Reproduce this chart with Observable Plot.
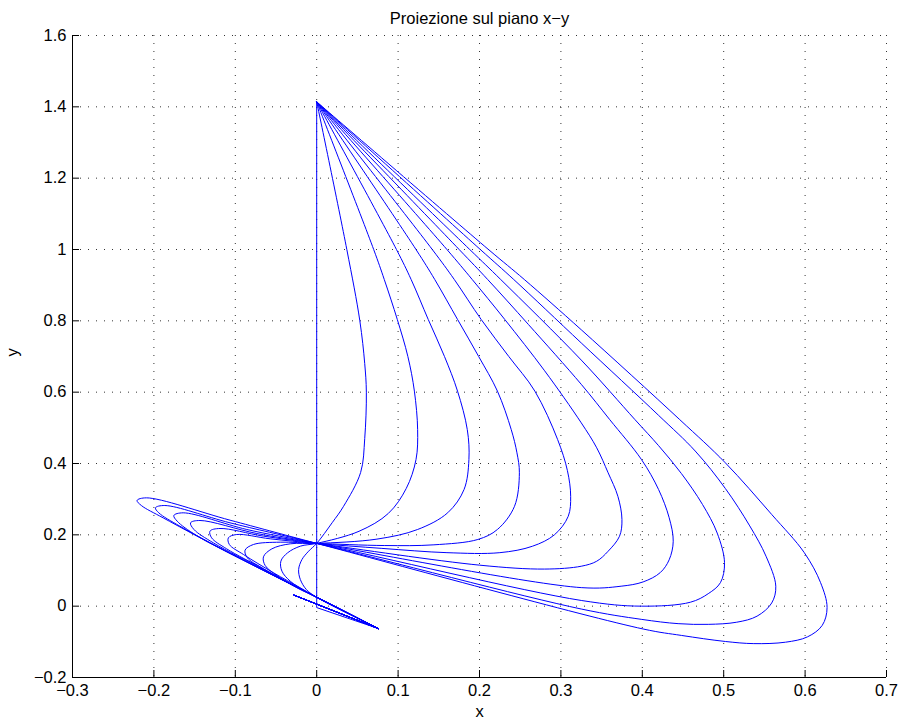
<!DOCTYPE html>
<html>
<head>
<meta charset="utf-8">
<script src="https://cdn.jsdelivr.net/npm/d3@7"></script>
<script src="https://cdn.jsdelivr.net/npm/@observablehq/plot@0.6"></script>
<style>
  html, body { margin: 0; padding: 0; background: #fff; }
  #chart { width: 901px; height: 727px; }
</style>
</head>
<body>
<div id="chart"></div>
<script>
// Tick values of the two axes
const xTicks = [-0.3, -0.2, -0.1, 0, 0.1, 0.2, 0.3, 0.4, 0.5, 0.6, 0.7];
const yTicks = [-0.2, 0, 0.2, 0.4, 0.6, 0.8, 1, 1.2, 1.4, 1.6];

// Shared points of all trajectories
const apex = [0, 1.414];      // common starting point
const hub = [0, 0.176];       // crossing point of every trajectory
const conv = [0, 0.025];      // where the left loops close up
const tailTip = [0.076, -0.063];
const tailEnd = [-0.028, 0.031];
const vBottom = [0, -0.004];  // end of the straight x = 0 trajectory

// Right lobes (apex -> lobe -> hub), innermost first
const lobe1 = [[0.037,1.0],[0.053,0.80],[0.059,0.68],[0.061,0.60],[0.059,0.47],[0.054,0.375],[0.033,0.28],[0.019,0.234]];
const lobe2 = [[0.070,1.0],[0.083,0.916],[0.099,0.804],[0.112,0.70],[0.120,0.603],[0.124,0.495],[0.122,0.411],[0.110,0.33],[0.088,0.26],[0.052,0.21]];
const lobe3 = [[0.098,1.0],[0.116,0.916],[0.137,0.804],[0.157,0.70],[0.173,0.603],[0.185,0.495],[0.187,0.411],[0.181,0.327],[0.161,0.262],[0.124,0.215],[0.074,0.188]];
const lobe4 = [[0.122,1.0],[0.145,0.916],[0.173,0.804],[0.199,0.70],[0.222,0.603],[0.239,0.495],[0.246,0.43],[0.249,0.374],[0.243,0.28],[0.222,0.215],[0.198,0.187],[0.144,0.172],[0.083,0.17]];
const lobe5 = [[0.142,1.0],[0.169,0.916],[0.202,0.804],[0.236,0.70],[0.268,0.603],[0.296,0.467],[0.308,0.38],[0.312,0.308],[0.309,0.252],[0.292,0.20],[0.265,0.168],[0.225,0.15],[0.16,0.15],[0.08,0.162]];
const lobe6 = [[0.160,1.0],[0.191,0.916],[0.231,0.804],[0.28,0.66],[0.325,0.514],[0.344,0.444],[0.358,0.374],[0.370,0.308],[0.375,0.243],[0.372,0.196],[0.358,0.154],[0.344,0.126],[0.325,0.112],[0.28,0.104],[0.2,0.115]];
const lobe7 = [[0.175,1.0],[0.210,0.916],[0.26,0.79],[0.325,0.622],[0.36,0.523],[0.399,0.411],[0.42,0.327],[0.433,0.248],[0.438,0.182],[0.433,0.13],[0.422,0.094],[0.401,0.068],[0.374,0.056],[0.325,0.052]];
const lobe8 = [[0.188,1.0],[0.226,0.916],[0.325,0.69],[0.391,0.523],[0.42,0.45],[0.448,0.372],[0.474,0.285],[0.492,0.205],[0.501,0.122],[0.496,0.066],[0.481,0.035],[0.459,0.011],[0.399,0.0],[0.325,0.016]];
const lobe9 = [[0.201,1.0],[0.242,0.916],[0.325,0.738],[0.42,0.535],[0.465,0.435],[0.502,0.33],[0.532,0.225],[0.552,0.14],[0.564,0.056],[0.559,0.009],[0.541,-0.028],[0.516,-0.045],[0.481,-0.051],[0.444,-0.049],[0.399,-0.037],[0.325,-0.008]];
const lobe10 = [[0.211,1.0],[0.255,0.916],[0.325,0.775],[0.446,0.523],[0.502,0.402],[0.559,0.257],[0.599,0.150],[0.619,0.066],[0.627,-0.004],[0.621,-0.054],[0.603,-0.086],[0.576,-0.101],[0.537,-0.105],[0.502,-0.099],[0.448,-0.082],[0.401,-0.064]];

// Left loops (hub -> loop -> conv), smallest first
const loop1 = [[-0.0099,0.1542],[-0.0181,0.1308],[-0.0222,0.1028],[-0.0201,0.0748],[-0.0127,0.0467]];
const loop2 = [[-0.0201,0.1682],[-0.0358,0.1495],[-0.0440,0.1262],[-0.0427,0.0981],[-0.0325,0.0701],[-0.0140,0.0421]];
const loop3 = [[-0.0325,0.1748],[-0.0551,0.1607],[-0.0654,0.1383],[-0.0633,0.1140],[-0.0489,0.0860],[-0.0242,0.0514]];
const loop4 = [[-0.0448,0.1794],[-0.0777,0.1729],[-0.0880,0.1570],[-0.0851,0.1355],[-0.0674,0.1075],[-0.0366,0.0673]];
const loop5 = [[-0.0571,0.1888],[-0.0982,0.2009],[-0.1085,0.1916],[-0.1073,0.1729],[-0.0900,0.1449],[-0.0530,0.0935],[-0.0201,0.0514]];
const loop6 = [[-0.0654,0.1963],[-0.1188,0.2178],[-0.1311,0.2103],[-0.1291,0.1916],[-0.1106,0.1607],[-0.0654,0.1047],[-0.0242,0.0542]];
const loop7 = [[-0.0736,0.2037],[-0.1434,0.2402],[-0.1550,0.2336],[-0.1508,0.2150],[-0.1270,0.1776],[-0.0654,0.1028]];
const loop8 = [[-0.0859,0.2150],[-0.1640,0.2617],[-0.1755,0.2542],[-0.1714,0.2383],[-0.1476,0.1981],[-0.0736,0.1103]];
const loop9 = [[-0.1065,0.2337],[-0.1866,0.2822],[-0.1981,0.2757],[-0.1940,0.2617],[-0.1681,0.2243],[-0.0859,0.1243]];
const loop10 = [[-0.1065,0.2411],[-0.2092,0.3037],[-0.2207,0.2963],[-0.2154,0.2822],[-0.1887,0.2477],[-0.1065,0.1477]];

const lobes = [lobe1, lobe2, lobe3, lobe4, lobe5, lobe6, lobe7, lobe8, lobe9, lobe10];
const loops = [loop1, loop2, loop3, loop4, loop5, loop6, loop7, loop8, loop9, loop10];

const toRows = (pts, id) => pts.map(([x, y]) => ({x, y, id}));

// Each trajectory: apex -> right lobe -> hub -> left loop -> conv -> tail tip
const curved = lobes.flatMap((lobe, i) =>
  toRows([apex, ...lobe, hub, ...loops[i], conv, tailTip], i));
// Straight segments: the x = 0 trajectory and the final return strokes
const straight = [
  ...toRows([apex, hub, vBottom, tailTip], "v"),
  ...lobes.flatMap((_, i) => toRows([tailTip, tailEnd], "r" + i))
];

const fmt = d3.format("");
const blue = "#0000ff";
const gridStyle = {stroke: "#000", strokeOpacity: 0.8, strokeWidth: 1, strokeDasharray: "1,7"};

const chart = Plot.plot({
  width: 901,
  height: 727,
  marginLeft: 72,
  marginRight: 15,
  marginTop: 35,
  marginBottom: 50,
  x: {domain: [-0.3, 0.7]},
  y: {domain: [-0.2, 1.6]},
  style: {fontFamily: "'Liberation Sans', Arial, Helvetica, sans-serif", fontSize: "16.5px", background: "#fff", color: "#000"},
  marks: [
    Plot.gridX(xTicks, gridStyle),
    Plot.gridY(yTicks, gridStyle),
    Plot.ruleX([-0.3], {stroke: "#000"}),
    Plot.ruleY([-0.2], {stroke: "#000"}),
    // inward tick marks
    Plot.axisX(xTicks, {anchor: "bottom", tickSize: 7, dy: -7, tickFormat: () => "", label: null}),
    Plot.axisY(yTicks, {anchor: "left", tickSize: 7, dx: 7, tickFormat: () => "", label: null}),
    // tick labels
    Plot.axisX(xTicks, {anchor: "bottom", tickSize: 0, tickPadding: 7, tickFormat: fmt, label: null, fill: "#000", fontSize: 16.5}),
    Plot.axisY(yTicks, {anchor: "left", tickSize: 0, tickPadding: 6, tickFormat: fmt, label: null, fill: "#000", fontSize: 16.5}),
    Plot.line(curved, {x: "x", y: "y", z: "id", stroke: blue, strokeWidth: 1, curve: "catmull-rom"}),
    Plot.line(straight, {x: "x", y: "y", z: "id", stroke: blue, strokeWidth: 1, curve: "linear"}),
    Plot.text(["Proiezione sul piano x\u2212y"], {frameAnchor: "top", dy: -23, fill: "#000", fontSize: 16.5}),
    Plot.text(["x"], {frameAnchor: "bottom", dy: 39, fill: "#000", fontSize: 16.5}),
    Plot.text(["y"], {frameAnchor: "left", dx: -60, rotate: -90, fill: "#000", fontSize: 16.5})
  ]
});

document.getElementById("chart").appendChild(chart);
</script>
</body>
</html>
